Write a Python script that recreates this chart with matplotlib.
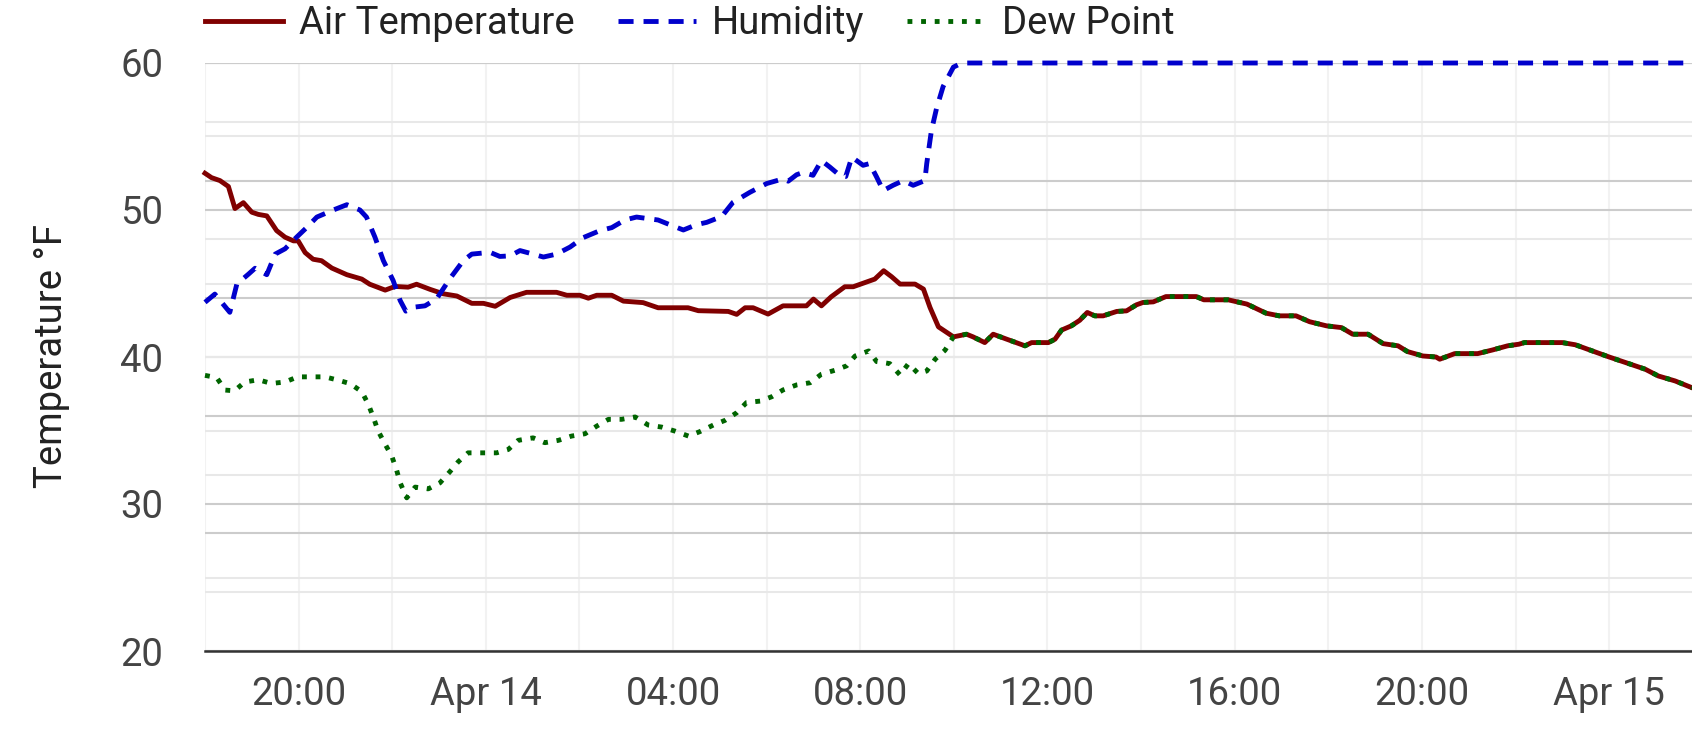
import matplotlib
matplotlib.use('Agg')
import numpy as np
import pandas as pd
import matplotlib.pyplot as plt
import matplotlib.dates as mdates
import matplotlib.ticker as mticker

plt.rcParams['font.family'] = ['Roboto', 'DejaVu Sans']

# tempo em horas desde 13/04 18:00
inicio = pd.Timestamp('2024-04-13 18:00')
fim_horas = 31.77

air_hours = [0.0, 0.14, 0.32, 0.5, 0.64, 0.82, 1.0, 1.14, 1.32, 1.53, 1.71, 1.89, 1.99,
             2.14, 2.31, 2.49, 2.71, 3.03, 3.35, 3.52, 3.85, 4.06, 4.34, 4.52, 4.81,
             5.09, 5.38, 5.7, 5.95, 6.2, 6.52, 6.87, 7.51, 7.73, 8.01, 8.19, 8.37,
             8.69, 8.94, 9.36, 9.68, 10.32, 10.54, 11.18, 11.36, 11.54, 11.71, 12.03,
             12.35, 12.85, 13.0, 13.17, 13.38, 13.67, 13.85, 14.31, 14.5, 14.67,
             14.85, 15.17, 15.35, 15.49, 15.67, 15.99, 16.27, 16.41, 16.66, 16.84,
             17.13, 17.52, 17.66, 18.02, 18.16, 18.3, 18.51, 18.69, 18.85, 19.01,
             19.19, 19.48, 19.69, 19.9, 20.04, 20.26, 20.53, 21.18, 21.34, 21.86,
             22.26, 22.67, 22.95, 23.31, 23.6, 23.96, 24.28, 24.52, 24.85, 25.17,
             25.49, 25.69, 26.02, 26.3, 26.38, 26.7, 27.19, 27.51, 27.83, 28.07,
             28.19, 29.0, 29.28, 29.6, 30.0, 30.4, 30.77, 31.05, 31.41, 31.77]
air_temp = [52.5, 52.2, 52.0, 51.6, 50.1, 50.5, 49.85, 49.7, 49.6, 48.6, 48.15, 47.9, 47.9,
            47.1, 46.65, 46.55, 46.05, 45.6, 45.3, 44.95, 44.55, 44.8, 44.75, 44.95, 44.6,
            44.3, 44.15, 43.65, 43.65, 43.45, 44.05, 44.4, 44.4, 44.2, 44.2, 44.0, 44.2,
            44.2, 43.8, 43.7, 43.35, 43.35, 43.15, 43.1, 42.9, 43.35, 43.35, 42.92,
            43.48, 43.48, 43.94, 43.48, 44.1, 44.78, 44.78, 45.3, 45.87, 45.46,
            44.96, 44.96, 44.62, 43.37, 42.05, 41.37, 41.55, 41.37, 40.98, 41.55,
            41.21, 40.76, 40.98, 40.98, 41.21, 41.83, 42.12, 42.5, 43.03, 42.8,
            42.8, 43.1, 43.14, 43.55, 43.71, 43.75, 44.11, 44.11, 43.89, 43.89,
            43.6, 42.98, 42.8, 42.8, 42.4, 42.12, 42.0, 41.55, 41.55, 40.91,
            40.76, 40.37, 40.07, 40.0, 39.85, 40.23, 40.23, 40.48, 40.76, 40.87,
            40.98, 40.98, 40.83, 40.46, 40.0, 39.57, 39.17, 38.71, 38.37, 37.91]

# ponto de orvalho antes de encostar na temperatura do ar
dew_hours = [0.0, 0.25, 0.43, 0.63, 0.85, 1.14, 1.42, 1.71, 1.98, 2.28, 2.56, 2.85, 3.1,
             3.35, 3.49, 3.6, 3.7, 3.85, 3.99, 4.09, 4.17, 4.31, 4.49, 4.77, 5.02, 5.23,
             5.41, 5.62, 5.91, 6.23, 6.48, 6.69, 7.01, 7.26, 7.55, 7.83, 8.12, 8.37,
             8.62, 8.9, 9.19, 9.47, 9.76, 10.04, 10.33, 10.57, 10.86, 11.11, 11.36,
             11.57, 11.86, 12.11, 12.35, 12.64, 12.93, 13.17, 13.46, 13.71, 13.89,
             14.18, 14.35, 14.63, 14.85, 15.03, 15.24, 15.42, 15.6, 15.81]
dew_point = [38.75, 38.6, 37.75, 37.7, 38.3, 38.45, 38.2, 38.3, 38.65, 38.65, 38.65, 38.42, 38.19,
             37.64, 36.78, 35.87, 34.96, 34.06, 33.26, 32.35, 31.44, 30.42, 31.15, 31.03, 31.44, 32.19,
             32.87, 33.48, 33.48, 33.48, 33.71, 34.33, 34.5, 34.17, 34.33, 34.62, 34.78, 35.3,
             35.76, 35.76, 35.92, 35.37, 35.23, 34.96, 34.62, 34.92, 35.37, 35.69, 36.21,
             36.9, 37.0, 37.3, 37.76, 38.1, 38.25, 38.83, 39.1, 39.4, 40.07,
             40.41, 39.69, 39.55, 38.78, 39.55, 38.87, 39.05, 39.85, 40.46]

# umidade em %, eixo secundario 0-100
hum_hours = [0.0, 0.21, 0.53, 0.68, 0.93, 1.07, 1.32, 1.5, 1.71, 1.96, 2.17, 2.39, 2.74,
             3.03, 3.31, 3.45, 3.63, 3.81, 4.02, 4.17, 4.29, 4.49, 4.7, 4.95, 5.23, 5.52,
             5.7, 6.09, 6.3, 6.52, 6.73, 7.01, 7.23, 7.51, 7.8, 8.08, 8.44, 8.69, 8.97,
             9.22, 9.68, 9.93, 10.22, 10.5, 10.72, 11.04, 11.28, 11.64, 12.0, 12.35,
             12.46, 12.64, 12.78, 12.99, 13.17, 13.35, 13.56, 13.69, 13.82, 14.06, 14.2,
             14.35, 14.49, 14.7, 14.92, 15.13, 15.38, 15.42, 15.52, 15.63, 15.77, 15.99,
             16.17, 31.77]
humidity = [59.3, 60.7, 57.6, 62.4, 64.1, 65.1, 64.0, 67.5, 68.4, 70.4, 72.0, 73.8, 75.0,
            75.9, 75.0, 73.8, 70.4, 66.4, 63.0, 59.6, 57.8, 58.5, 58.7, 59.9, 63.3, 66.4,
            67.5, 67.8, 67.1, 67.2, 68.1, 67.5, 67.0, 67.5, 68.7, 70.3, 71.5, 72.0, 73.3,
            73.8, 73.3, 72.5, 71.6, 72.5, 72.9, 73.9, 76.3, 78.0, 79.5, 80.3,
            79.9, 81.0, 81.4, 80.9, 83.4, 82.3, 80.9, 80.7, 84.0, 82.6, 82.9,
            80.6, 78.3, 79.2, 80.0, 79.2, 80.0, 82.9, 88.5, 92.3, 96.0, 99.3,
            100.0, 100.0]


def para_num(horas):
    datas = inicio + pd.to_timedelta(horas, unit='h')
    return mdates.date2num(datas.to_pydatetime())


# depois das ~16h o orvalho coincide com a temperatura do ar
dew_all_hours = dew_hours + [h for h in air_hours if h > 15.9]
dew_all = dew_point + [t for h, t in zip(air_hours, air_temp) if h > 15.9]

fs = 27.5
lw = 3.5
fig = plt.figure(figsize=(16.92, 7.39), dpi=100)
ax = fig.add_axes([205 / 1692, 88 / 739, 1487 / 1692, 588 / 739])
ax2 = ax.twinx()

l_air, = ax2.plot(para_num(air_hours), air_temp, color='#800000', lw=lw,
                  transform=ax.transData, clip_on=False, label='Air Temperature')
l_hum, = ax2.plot(para_num(hum_hours), humidity, color='#0000cc', lw=lw,
                  dashes=(3.1, 2.05), clip_on=False, label='Humidity')
l_dew, = ax2.plot(para_num(dew_all_hours), dew_all, color='#006400', lw=lw,
                  dashes=(1, 1.8), transform=ax.transData, clip_on=False, label='Dew Point')

ax.set_xlim(para_num([0.0])[0], para_num([fim_horas])[0])
ax.set_ylim(20, 60)
ax2.set_ylim(0, 100)

ax.xaxis.set_major_locator(mdates.HourLocator(byhour=range(0, 24, 4)))
ax.xaxis.set_minor_locator(mdates.HourLocator(byhour=range(0, 24, 2)))


def fmt_data(x, pos):
    d = mdates.num2date(x)
    if d.hour == 0:
        return f"{d:%b} {d.day}"
    return f"{d:%H:%M}"


ax.xaxis.set_major_formatter(mticker.FuncFormatter(fmt_data))
ax.yaxis.set_major_locator(mticker.MultipleLocator(10))
ax.yaxis.set_minor_locator(mticker.MultipleLocator(5))
ax2.yaxis.set_major_locator(mticker.MultipleLocator(20))
ax2.yaxis.set_minor_locator(mticker.MultipleLocator(10))

ax.grid(axis='y', which='major', color='#cccccc', lw=1.5)
ax.grid(axis='y', which='minor', color='#e8e8e8', lw=1.5)
ax.grid(axis='x', which='both', color='#f2f2f2', lw=1.5)
ax2.grid(axis='y', which='major', color='#cccccc', lw=1.5)
ax2.grid(axis='y', which='minor', color='#e8e8e8', lw=1.5)

ax.tick_params(axis='x', which='both', length=0, labelsize=fs, colors='#444444', pad=18)
ax.tick_params(axis='y', which='both', length=0, labelsize=fs, colors='#444444', pad=30)
ax2.tick_params(axis='y', which='both', length=0, right=False, labelright=False)

for s in ax.spines.values():
    s.set_visible(False)
for nome, s in ax2.spines.items():
    s.set_visible(nome == 'bottom')
ax2.spines['bottom'].set_color('#333333')
ax2.spines['bottom'].set_linewidth(1.8)

fig.text(52 / 1692, 1 - 356 / 739, 'Temperature °F', rotation=90, ha='center',
         va='center', fontsize=fs, color='#222222')

fig.legend(handles=[l_air, l_hum, l_dew], loc='center left',
           bbox_to_anchor=(205 / 1692, 1 - 24 / 739), ncol=3, frameon=False,
           fontsize=fs, handlelength=2.05, handletextpad=0.42, columnspacing=1.12,
           borderpad=0, borderaxespad=0, labelcolor='#222222')

fig.savefig('out.png', dpi=100)
